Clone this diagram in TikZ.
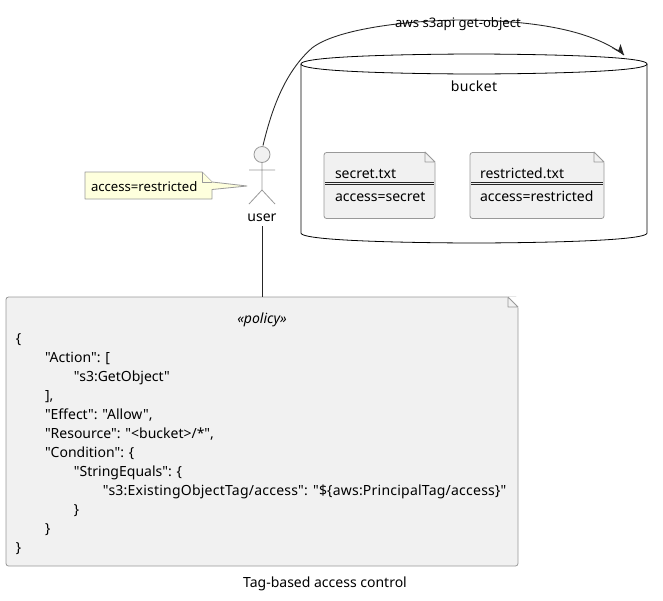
\documentclass[tikz,border=0pt]{standalone}
\usepackage{fontspec}
\setmainfont{Noto Sans}
\newfontfamily\nsans{Noto Sans}
\usetikzlibrary{arrows.meta}
\definecolor{boxfill}{HTML}{F1F1F1}
\definecolor{boxline}{HTML}{999999}
\definecolor{notefill}{HTML}{FEFFDD}
\newcommand{\ind}[1]{\hspace*{#1}}
\tikzset{
  x=0.75pt,y=-0.75pt,
  txt/.style={inner sep=0pt,outer sep=0pt,font=\nsans\fontsize{10.5pt}{14.25pt}\selectfont,text=black},
  smalltxt/.style={txt,font=\nsans\fontsize{9.85pt}{14.25pt}\selectfont},
  boxshape/.style={draw=boxline,fill=boxfill,line width=0.6pt,rounded corners=1.9pt,inner sep=0pt,outer sep=0pt},
  foldshape/.style={draw=boxline,fill=boxfill,line width=0.6pt,line join=round},
  dogear/.style={fill=white},
  sepline/.style={draw=black!85,line width=0.6pt},
  link/.style={draw=black!85,line width=0.65pt},
  actorline/.style={draw=boxline,line width=0.6pt},
  ghost/.style={inner sep=0pt,outer sep=0pt,draw=none},
}
\begin{document}
\begin{tikzpicture}
\useasboundingbox[fill=white] (0,0) rectangle (663,600);
% bucket
\draw[black,line width=0.6pt,fill=white] (301,64) .. controls (301,54) and (474,54) .. (474,54) .. controls (474,54) and (647,54) .. (647,64) -- (647,233) .. controls (647,243) and (474,243) .. (474,243) .. controls (474,243) and (301,243) .. (301,233) -- cycle;
\draw[black,line width=0.6pt] (301,64) .. controls (301,74) and (474,74) .. (474,74) .. controls (474,74) and (647,74) .. (647,64);
\node[ghost,minimum width=259.5pt,minimum height=141.75pt] (bucket) at (474,148.5) {};
\node[txt,anchor=base] (bucketlabel) at (474,91) {\addfontfeature{LetterSpace=3}bucket};
\coordinate (bucketin) at (624,55);
% files
\node[boxshape,minimum width=83.25pt,minimum height=49.5pt] (secret) at (379.5,185.5) {};
\node[boxshape,minimum width=100.5pt,minimum height=49.5pt] (restricted) at (537,185.5) {};
\fill[dogear] (425,151.5) -- (436,151.5) -- (436,163) -- cycle;
\draw[foldshape] (425,152) -- (435,162) -- (425,162) -- cycle;
\fill[dogear] (594,151.5) -- (605,151.5) -- (605,163) -- cycle;
\draw[foldshape] (594,152) -- (604,162) -- (594,162) -- cycle;
\draw[sepline] (325,182) -- (434,182) (325,184) -- (434,184);
\draw[sepline] (471,182) -- (603,182) (471,184) -- (603,184);
\node[txt,anchor=base west] (secretname) at (335,178) {secret.txt};
\node[txt,anchor=base west] (secretval) at (335,201) {access=secret};
\node[txt,anchor=base west] (restrictedname) at (480,178) {restricted.txt};
\node[txt,anchor=base west] (restrictedval) at (480,201) {access=restricted};
% actor
\node[draw=boxline,fill=boxfill,line width=0.6pt,circle,minimum size=12pt,inner sep=0pt,outer sep=0pt] (head) at (262,154.5) {};
\draw[actorline] (head.south) -- (262,190) (249,170) -- (275,170) (249,204) -- (262,190) -- (275,204);
\node[txt,anchor=base] (user) at (262,221) {user};
% note
\draw[draw=boxline,fill=notefill,line width=0.6pt,line join=round] (85,172) -- (202,172) -- (212,182) -- (247,186) -- (212,189.5) -- (212,199) -- (85,199) -- cycle;
\draw[draw=boxline,fill=notefill,line width=0.6pt,line join=round] (202,172) -- (202,182) -- (212,182);
\node[smalltxt,anchor=base west] (note) at (91,191) {access=restricted};
% policy
\node[boxshape,minimum width=384pt,minimum height=201.75pt] (policy) at (262,431.5) {};
\fill[dogear] (507,296.5) -- (519,296.5) -- (519,308) -- cycle;
\draw[foldshape] (508,297) -- (518,307) -- (508,307) -- cycle;
\node[txt,anchor=base] (stereo) at (262,323) {\itshape «policy»};
\node[txt,anchor=north west,align=left] (policytext) at (16,333.5) {\{\\
\ind{21.75pt}"Action": [\\
\ind{43.5pt}"s3:GetObject"\\
\ind{21.75pt}],\\
\ind{21.75pt}"Effect": "Allow",\\
\ind{21.75pt}"Resource": "<bucket>/*",\\
\ind{21.75pt}"Condition": \{\\
\ind{43.5pt}"StringEquals": \{\\
\ind{65.25pt}{\addfontfeature{LetterSpace=1.6}"s3:ExistingObjectTag/access": "\$\{aws:PrincipalTag/access\}"}\\
\ind{43.5pt}\}\\
\ind{21.75pt}\}\\
\}};
\node[txt,anchor=base] (caption) at (325,587) {Tag-based access control};
% connectors
\draw[link] (user.south) ++(0,5) -- (policy.north);
\draw[link] (head.north) ++(1,-1) .. controls (272,108) and (285,72) .. (312,48) .. controls (335,30) and (400,21) .. (458,20) .. controls (530,20) and (590,29) .. (bucketin);
\fill[black!85] (bucketin) -- (620.5,44) -- (618.5,50) -- (612,48) -- cycle;
\node[smalltxt,anchor=base] (cmd) at (458,27) {aws s3api get-object};
\end{tikzpicture}
\end{document}
